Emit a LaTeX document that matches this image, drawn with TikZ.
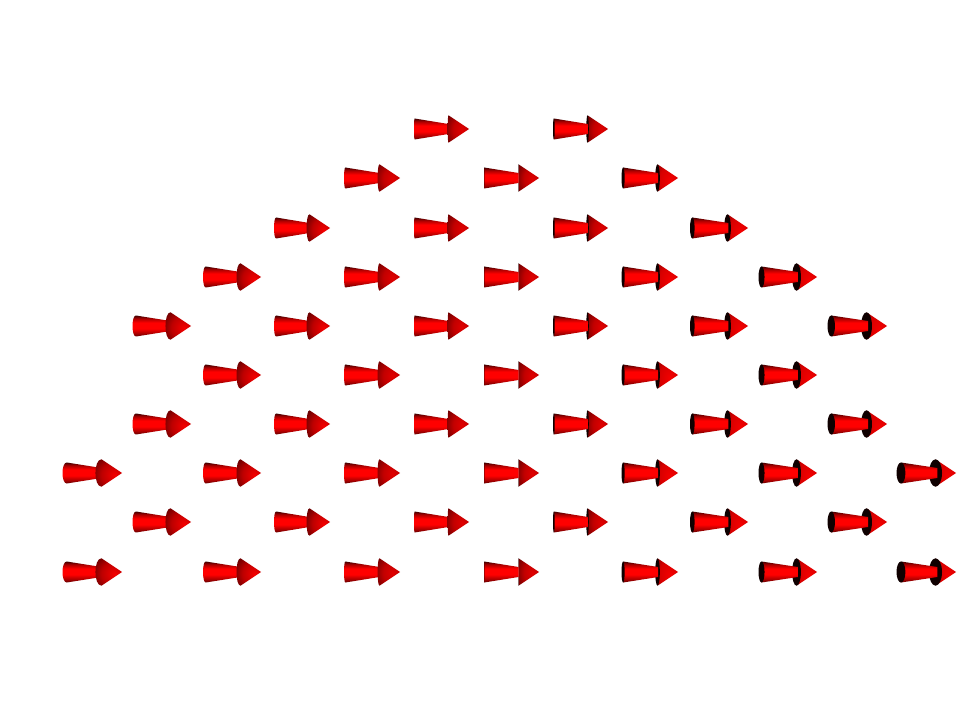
\documentclass[tikz,border=0pt]{standalone}
\usepackage{xcolor}

\pgfdeclareverticalshading{shaftshade}{100bp}{color(0bp)=(black!62!red); color(25bp)=(black!62!red); color(33bp)=(red!68!black); color(44bp)=(red); color(58bp)=(red); color(68bp)=(red!66!black); color(75bp)=(black!74!red); color(100bp)=(black!74!red)}
\pgfdeclareradialshading{headdark}{\pgfpoint{13bp}{-4bp}}{color(0bp)=(red!96!black); color(20bp)=(red!74!black); color(34bp)=(red!44!black); color(48bp)=(black!82!red); color(64bp)=(black)}
\pgfdeclareradialshading{headmid}{\pgfpoint{9bp}{-2bp}}{color(0bp)=(red!88!black); color(18bp)=(red!76!black); color(32bp)=(red!52!black); color(46bp)=(black!72!red); color(60bp)=(black)}
\pgfdeclareradialshading{headlit}{\pgfpoint{6bp}{-6bp}}{color(0bp)=(red!96!black); color(24bp)=(red!84!black); color(38bp)=(red!58!black); color(52bp)=(black!70!red); color(60bp)=(black)}

\tikzset{
    shaft/.style={shading=shaftshade},
    backcap/.style={fill=black!94!red}
}

% col, left end of the tail, tip, row
\newcommand{\spinvec}[4]{
    \pgfmathsetmacro{\off}{abs(#1-5.8)}
    \pgfmathsetmacro{\tailr}{0.72*\off}
    \pgfmathsetmacro{\headr}{1.05*\off}
    \pgfmathsetmacro{\tailx}{#2+\tailr}
    \pgfmathsetmacro{\basex}{#3-20.5}
    \pgfmathsetmacro{\neckx}{\basex+0.3*\off}
    \pgfmathsetmacro{\tailc}{1.33*\tailr}
    \pgfmathsetmacro{\headc}{1.33*\headr}
    \ifnum#1>5
        \shade[shading=\ifnum#1>7 headlit\else headmid\fi] (#3,#4) -- (\basex,#4-13.7) -- (\basex,#4+13.7) -- cycle;
        \fill[backcap] (\basex,#4) ellipse [x radius=\headr, y radius=13.7];
        \shade[shaft] (\tailx,#4-10.5) -- (\neckx,#4-5) -- (\neckx,#4+5) -- (\tailx,#4+10.5) -- cycle;
        \fill[backcap] (\tailx,#4) ellipse [x radius=\tailr, y radius=10.5];
    \else
        \shade[shaft] (\tailx,#4-10.5) -- (\basex,#4-5) -- (\basex,#4+5) -- (\tailx,#4+10.5)
            .. controls (\tailx-\tailc,#4+10.5) and (\tailx-\tailc,#4-10.5) .. (\tailx,#4-10.5) -- cycle;
        \shade[shading=\ifnum#1>3 headmid\else headdark\fi] (#3,#4) -- (\basex,#4-13.7) .. controls (\basex-\headc,#4-13.7) and (\basex-\headc,#4+13.7) .. (\basex,#4+13.7) -- cycle;
    \fi
}

\begin{document}
\begin{tikzpicture}[x=0.75pt, y=-0.75pt]

\useasboundingbox (0,0) rectangle (968,702);

\foreach \col/\leftx/\tip/\rows in {
    0/62.5/122/{473,572},
    1/132.5/191/{326,424,522},
    2/203/261/{277,375,473,572},
    3/274/330/{228,326,424,522},
    4/344/400/{178,277,375,473,572},
    5/414/469/{129,228,326,424,522},
    6/484/539/{178,277,375,473,572},
    7/553/608/{129,228,326,424,522},
    8/621.5/678/{178,277,375,473,572},
    9/690/748/{228,326,424,522},
    10/758.5/817/{277,375,473,572},
    11/827.5/887/{326,424,522},
    12/896.5/956/{473,572}} {
    \foreach \row in \rows {
        \spinvec{\col}{\leftx}{\tip}{\row}
    }
}

\end{tikzpicture}
\end{document}
